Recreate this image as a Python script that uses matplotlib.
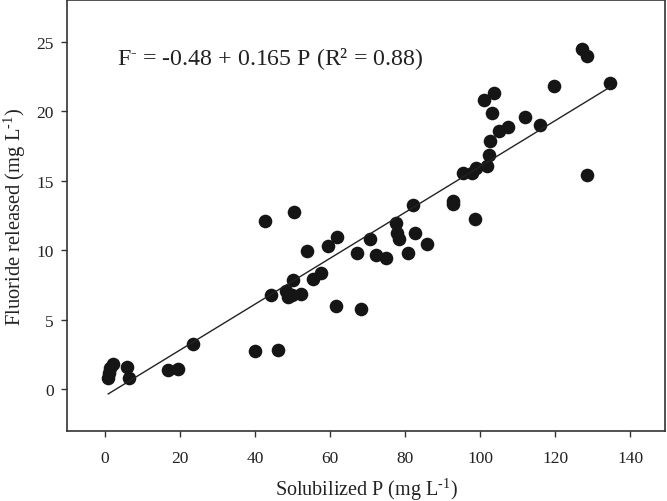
import numpy as np
import matplotlib
matplotlib.use('Agg')
import matplotlib.pyplot as plt

plt.rcParams['font.family'] = ['Liberation Serif', 'DejaVu Serif']
plt.rcParams['mathtext.fontset'] = 'custom'
plt.rcParams['mathtext.rm'] = 'Liberation Serif'
plt.rcParams['mathtext.it'] = 'Liberation Serif:italic'

# solubilized P (mg/L) and fluoride released (mg/L)
sol_p = [0.9, 1.1, 2.2, 1.5, 5.8, 6.5, 16.9, 19.5, 23.5, 40.0, 46.1,
         42.8, 50.4, 53.8, 59.5, 61.8, 67.1, 70.7, 72.4, 74.9, 77.6,
         77.8, 78.4, 82.0, 82.7, 80.7, 85.9, 92.7, 92.7, 50.2, 55.4,
         57.6, 44.2, 48.4, 48.9, 49.8, 52.2, 61.6, 68.3, 98.7,
         127.1, 128.4, 119.7, 134.7, 101.1, 103.8, 103.3, 112.0, 116.0,
         105.1, 107.4, 102.7, 102.4, 101.9, 98.9, 97.8, 95.4, 128.4]
fluoride = [0.84, 1.2, 1.8, 1.56, 1.64, 0.84, 1.39, 1.44, 3.24, 2.72, 2.83,
            12.13, 12.73, 9.97, 10.33, 10.93, 9.80, 10.81, 9.65, 9.46, 11.96,
            11.24, 10.81, 13.26, 11.24, 9.80, 10.45, 13.57, 13.3, 7.87, 7.93,
            8.36, 6.77, 7.05, 6.65, 6.8, 6.82, 6.0, 5.81, 12.25,
            24.5, 23.96, 21.85, 22.0, 20.82, 21.3, 19.86, 19.57, 19.04,
            18.56, 18.85, 17.85, 16.86, 16.09, 15.9, 15.56, 15.56, 15.44]

intercept = -0.48
slope = 0.165

x_ticks = [0, 20, 40, 60, 80, 100, 120, 140]
y_ticks = [0, 5, 10, 15, 20, 25]

fig = plt.figure(figsize=(6.67, 5.02), dpi=100)
ax = fig.add_axes([0.1004, 0.1394, 0.8966, 0.8586])

ax.plot(sol_p, fluoride, 'o', color='#151515', markersize=9.8, markeredgewidth=0)

# regression line over the data range
xl = np.array([min(sol_p), max(sol_p)])
ax.plot(xl, intercept + slope * xl, color='#222222', linewidth=1.0)

ax.text(3.2, 23.85, 'F$^{\\text{-}}$ = -0.48 + 0.165 P (R² = 0.88)',
        fontsize=17.2, va='center', ha='left', color='#222222')

ax.set_xlim(-10.1, 149.3)
ax.set_ylim(-3.0, 28.0)
ax.set_xticks(x_ticks)
ax.set_yticks(y_ticks)
ax.tick_params(direction='out', length=4.5, width=1, labelsize=12.5,
               colors='#333333', labelcolor='#222222')
ax.tick_params(axis='x', pad=9)
ax.tick_params(axis='y', pad=5)
for s in ax.spines.values():
    s.set_linewidth(1.2)
    s.set_color('#333333')

ax.set_xlabel('Solubilized P (mg L$^{\\text{-1}}$)', fontsize=14.5, color='#222222', labelpad=7)
ax.set_ylabel('Fluoride released (mg L$^{\\text{-1}}$)', fontsize=14.8, color='#222222', labelpad=6)

fig.savefig('out.png', dpi=100)
